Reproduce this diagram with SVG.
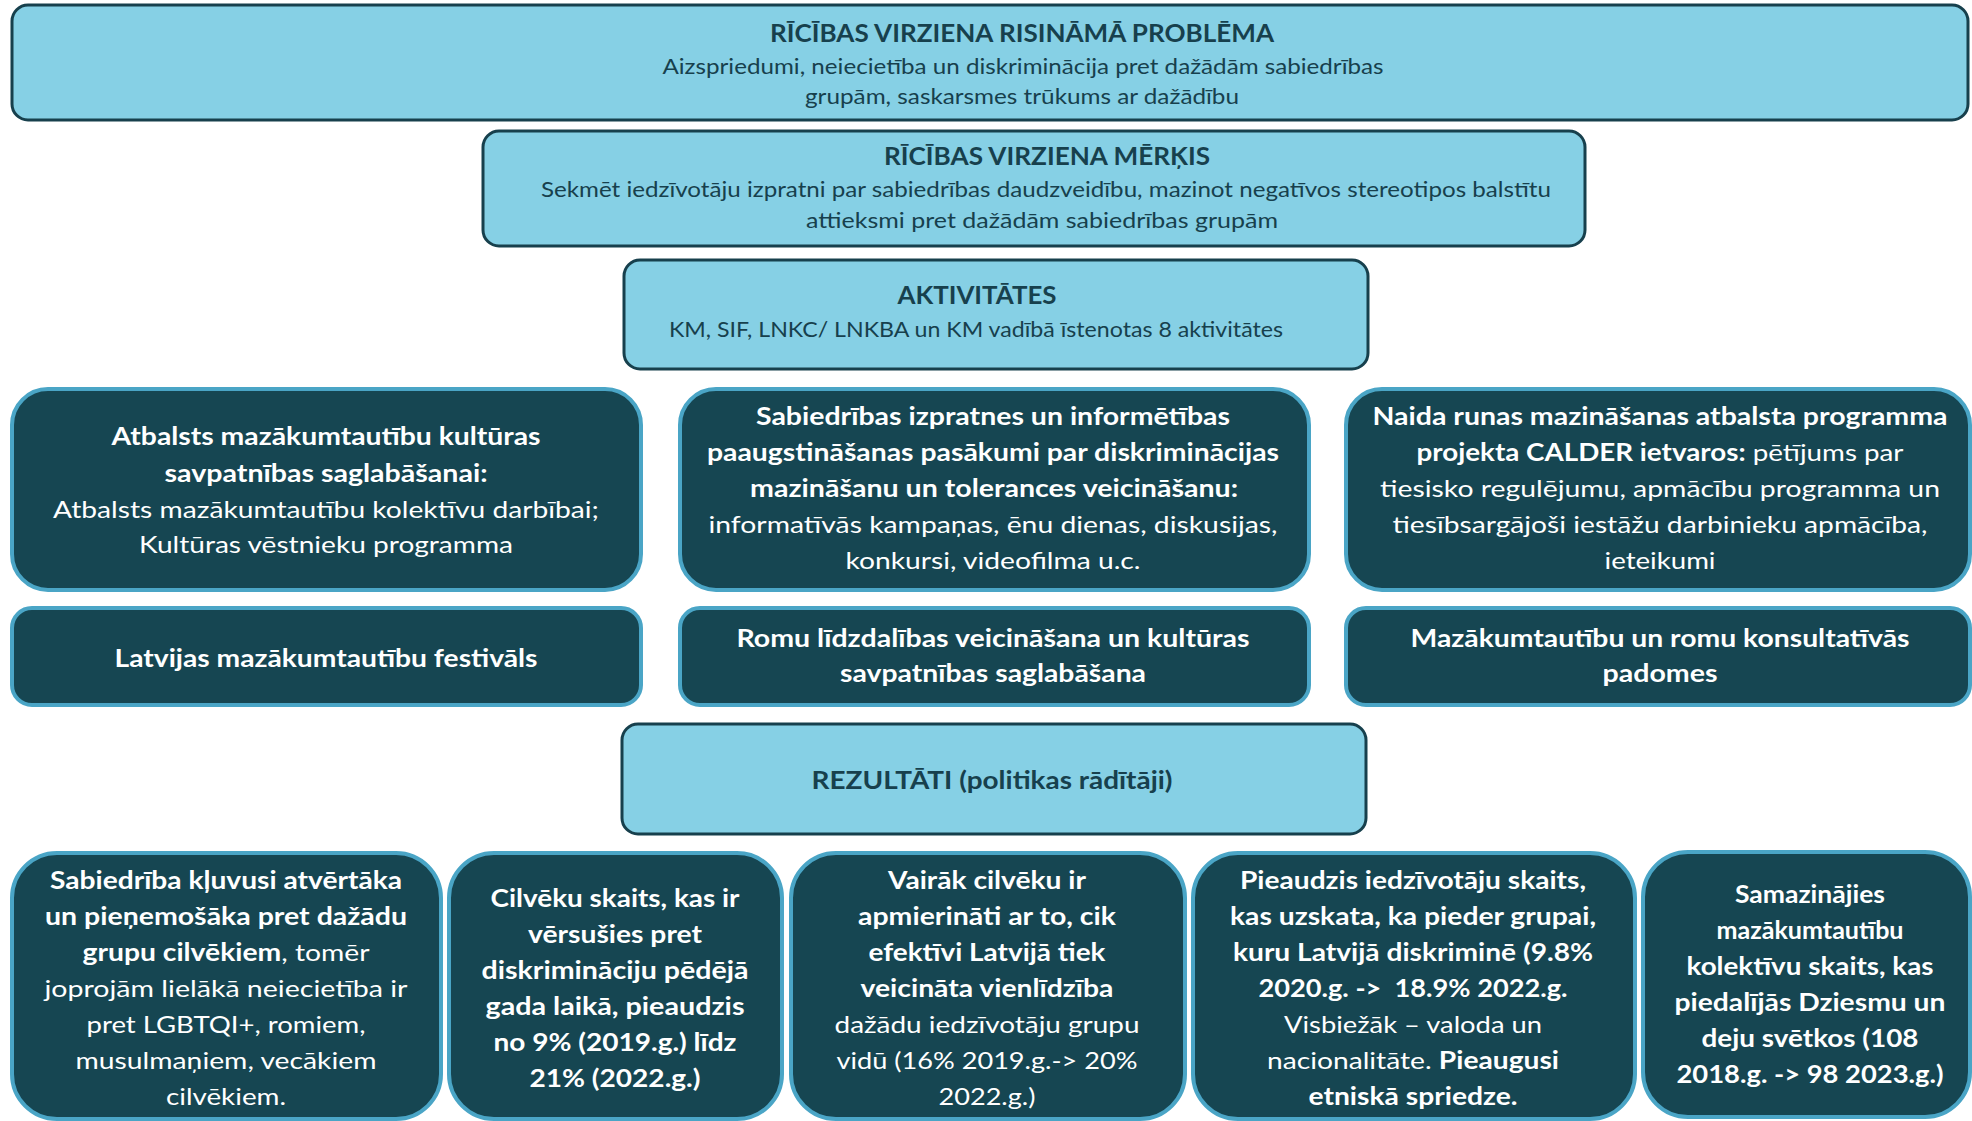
<svg xmlns="http://www.w3.org/2000/svg" width="1972" height="1121" viewBox="0 0 1972 1121">
<style>
.light{fill:#86D0E5;stroke:#17404D;stroke-width:3}
.dark{fill:#164652;stroke:#4AA5C6;stroke-width:4}
text{font-family:Lato,"Open Sans","Liberation Sans",sans-serif;text-anchor:middle}
.lt{fill:#17404D;font-size:22px}
.lh{fill:#17404D;font-size:24px;font-weight:700}
.dt{fill:#FFFFFF;font-size:24px}
.b{font-weight:700}
</style>
<rect width="1972" height="1121" fill="#FFFFFF"/>
<g id="connectors"/>
<g id="problema">
<rect class="light" x="12" y="5" width="1956" height="115" rx="16"/>
<text class="lh" x="1022" y="42" textLength="504" lengthAdjust="spacingAndGlyphs">RĪCĪBAS VIRZIENA RISINĀMĀ PROBLĒMA</text>
<text class="lt" x="1023" y="74" textLength="721" lengthAdjust="spacingAndGlyphs">Aizspriedumi, neiecietība un diskriminācija pret dažādām sabiedrības</text>
<text class="lt" x="1022" y="104" textLength="434" lengthAdjust="spacingAndGlyphs">grupām, saskarsmes trūkums ar dažādību</text>
</g>
<g id="merkis">
<rect class="light" x="483" y="131" width="1102" height="115" rx="16"/>
<text class="lh" x="1047" y="165" textLength="326" lengthAdjust="spacingAndGlyphs">RĪCĪBAS VIRZIENA MĒRĶIS</text>
<text class="lt" x="1046" y="197" textLength="1010" lengthAdjust="spacingAndGlyphs">Sekmēt iedzīvotāju izpratni par sabiedrības daudzveidību, mazinot negatīvos stereotipos balstītu</text>
<text class="lt" x="1042" y="228" textLength="472" lengthAdjust="spacingAndGlyphs">attieksmi pret dažādām sabiedrības grupām</text>
</g>
<g id="aktivitates">
<rect class="light" x="624" y="260" width="744" height="109" rx="16"/>
<text class="lh" x="977" y="304" textLength="159" lengthAdjust="spacingAndGlyphs">AKTIVITĀTES</text>
<text class="lt" x="976" y="337" textLength="614" lengthAdjust="spacingAndGlyphs">KM, SIF, LNKC/ LNKBA un KM vadībā īstenotas 8 aktivitātes</text>
</g>
<g id="akt1">
<rect class="dark" x="12" y="389" width="629" height="201" rx="36"/>
<text class="dt b" x="326" y="445" textLength="429" lengthAdjust="spacingAndGlyphs">Atbalsts mazākumtautību kultūras</text>
<text class="dt b" x="326" y="482" textLength="323" lengthAdjust="spacingAndGlyphs">savpatnības saglabāšanai:</text>
<text class="dt" x="326" y="518" textLength="546" lengthAdjust="spacingAndGlyphs">Atbalsts mazākumtautību kolektīvu darbībai;</text>
<text class="dt" x="326" y="553" textLength="374" lengthAdjust="spacingAndGlyphs">Kultūras vēstnieku programma</text>
</g>
<g id="akt2">
<rect class="dark" x="680" y="389" width="629" height="201" rx="36"/>
<text class="dt b" x="993" y="425" textLength="474" lengthAdjust="spacingAndGlyphs">Sabiedrības izpratnes un informētības</text>
<text class="dt b" x="993" y="461" textLength="572" lengthAdjust="spacingAndGlyphs">paaugstināšanas pasākumi par diskriminācijas</text>
<text class="dt b" x="994" y="497" textLength="488" lengthAdjust="spacingAndGlyphs">mazināšanu un tolerances veicināšanu:</text>
<text class="dt" x="993" y="533" textLength="569" lengthAdjust="spacingAndGlyphs">informatīvās kampaņas, ēnu dienas, diskusijas,</text>
<text class="dt" x="993" y="569" textLength="295" lengthAdjust="spacingAndGlyphs">konkursi, videofilma u.c.</text>
</g>
<g id="akt3">
<rect class="dark" x="1346" y="389" width="624" height="201" rx="36"/>
<text class="dt b" x="1660" y="425" textLength="575" lengthAdjust="spacingAndGlyphs">Naida runas mazināšanas atbalsta programma</text>
<text class="dt" x="1660" y="461" textLength="487" lengthAdjust="spacingAndGlyphs"><tspan class="b">projekta CALDER ietvaros:</tspan> pētījums par</text>
<text class="dt" x="1660" y="497" textLength="560" lengthAdjust="spacingAndGlyphs">tiesisko regulējumu, apmācību programma un</text>
<text class="dt" x="1660" y="533" textLength="535" lengthAdjust="spacingAndGlyphs">tiesībsargājoši iestāžu darbinieku apmācība,</text>
<text class="dt" x="1660" y="569" textLength="111" lengthAdjust="spacingAndGlyphs">ieteikumi</text>
</g>
<g id="akt4">
<rect class="dark" x="12" y="608" width="629" height="97" rx="20"/>
<text class="dt b" x="326" y="667" textLength="423" lengthAdjust="spacingAndGlyphs">Latvijas mazākumtautību festivāls</text>
</g>
<g id="akt5">
<rect class="dark" x="680" y="608" width="629" height="97" rx="20"/>
<text class="dt b" x="993" y="647" textLength="513" lengthAdjust="spacingAndGlyphs">Romu līdzdalības veicināšana un kultūras</text>
<text class="dt b" x="993" y="682" textLength="306" lengthAdjust="spacingAndGlyphs">savpatnības saglabāšana</text>
</g>
<g id="akt6">
<rect class="dark" x="1346" y="608" width="624" height="97" rx="20"/>
<text class="dt b" x="1660" y="647" textLength="499" lengthAdjust="spacingAndGlyphs">Mazākumtautību un romu konsultatīvās</text>
<text class="dt b" x="1660" y="682" textLength="115" lengthAdjust="spacingAndGlyphs">padomes</text>
</g>
<g id="rezultati">
<rect class="light" x="622" y="724" width="744" height="110" rx="16"/>
<text class="lh" x="992" y="789" textLength="361" lengthAdjust="spacingAndGlyphs">REZULTĀTI (politikas rādītāji)</text>
</g>
<g id="rez1">
<rect class="dark" x="12" y="853" width="429" height="266" rx="45"/>
<text class="dt b" x="226" y="889" textLength="352" lengthAdjust="spacingAndGlyphs">Sabiedrība kļuvusi atvērtāka</text>
<text class="dt b" x="226" y="925" textLength="362" lengthAdjust="spacingAndGlyphs">un pieņemošāka pret dažādu</text>
<text class="dt" x="226" y="961" textLength="287" lengthAdjust="spacingAndGlyphs"><tspan class="b">grupu cilvēkiem</tspan>, tomēr</text>
<text class="dt" x="226" y="997" textLength="363" lengthAdjust="spacingAndGlyphs">joprojām lielākā neiecietība ir</text>
<text class="dt" x="226" y="1033" textLength="279" lengthAdjust="spacingAndGlyphs">pret LGBTQI+, romiem,</text>
<text class="dt" x="226" y="1069" textLength="301" lengthAdjust="spacingAndGlyphs">musulmaņiem, vecākiem</text>
<text class="dt" x="226" y="1105" textLength="120" lengthAdjust="spacingAndGlyphs">cilvēkiem.</text>
</g>
<g id="rez2">
<rect class="dark" x="449" y="853" width="333" height="266" rx="45"/>
<text class="dt b" x="615" y="907" textLength="249" lengthAdjust="spacingAndGlyphs">Cilvēku skaits, kas ir</text>
<text class="dt b" x="615" y="943" textLength="174" lengthAdjust="spacingAndGlyphs">vērsušies pret</text>
<text class="dt b" x="615" y="979" textLength="267" lengthAdjust="spacingAndGlyphs">diskrimināciju pēdējā</text>
<text class="dt b" x="615" y="1015" textLength="259" lengthAdjust="spacingAndGlyphs">gada laikā, pieaudzis</text>
<text class="dt b" x="615" y="1051" textLength="243" lengthAdjust="spacingAndGlyphs">no 9% (2019.g.) līdz</text>
<text class="dt b" x="615" y="1087" textLength="171" lengthAdjust="spacingAndGlyphs">21% (2022.g.)</text>
</g>
<g id="rez3">
<rect class="dark" x="791" y="853" width="394" height="266" rx="45"/>
<text class="dt b" x="987" y="889" textLength="198" lengthAdjust="spacingAndGlyphs">Vairāk cilvēku ir</text>
<text class="dt b" x="987" y="925" textLength="258" lengthAdjust="spacingAndGlyphs">apmierināti ar to, cik</text>
<text class="dt b" x="987" y="961" textLength="237" lengthAdjust="spacingAndGlyphs">efektīvi Latvijā tiek</text>
<text class="dt b" x="987" y="997" textLength="253" lengthAdjust="spacingAndGlyphs">veicināta vienlīdzība</text>
<text class="dt" x="987" y="1033" textLength="305" lengthAdjust="spacingAndGlyphs">dažādu iedzīvotāju grupu</text>
<text class="dt" x="987" y="1069" textLength="301" lengthAdjust="spacingAndGlyphs">vidū (16% 2019.g.-&gt; 20%</text>
<text class="dt" x="987" y="1105" textLength="97" lengthAdjust="spacingAndGlyphs">2022.g.)</text>
</g>
<g id="rez4">
<rect class="dark" x="1193" y="853" width="442" height="266" rx="45"/>
<text class="dt b" x="1413" y="889" textLength="346" lengthAdjust="spacingAndGlyphs">Pieaudzis iedzīvotāju skaits,</text>
<text class="dt b" x="1413" y="925" textLength="366" lengthAdjust="spacingAndGlyphs">kas uzskata, ka pieder grupai,</text>
<text class="dt b" x="1413" y="961" textLength="360" lengthAdjust="spacingAndGlyphs">kuru Latvijā diskriminē (9.8%</text>
<text class="dt b" x="1413" y="997" textLength="309" lengthAdjust="spacingAndGlyphs" xml:space="preserve">2020.g. -&gt;  18.9% 2022.g.</text>
<text class="dt" x="1413" y="1033" textLength="258" lengthAdjust="spacingAndGlyphs">Visbiežāk – valoda un</text>
<text class="dt" x="1413" y="1069" textLength="292" lengthAdjust="spacingAndGlyphs">nacionalitāte. <tspan class="b">Pieaugusi</tspan></text>
<text class="dt b" x="1413" y="1105" textLength="209" lengthAdjust="spacingAndGlyphs">etniskā spriedze.</text>
</g>
<g id="rez5">
<rect class="dark" x="1643" y="852" width="327" height="265" rx="45"/>
<text class="dt b" x="1810" y="903" textLength="150" lengthAdjust="spacingAndGlyphs">Samazinājies</text>
<text class="dt b" x="1810" y="939" textLength="187" lengthAdjust="spacingAndGlyphs">mazākumtautību</text>
<text class="dt b" x="1810" y="975" textLength="247" lengthAdjust="spacingAndGlyphs">kolektīvu skaits, kas</text>
<text class="dt b" x="1810" y="1011" textLength="271" lengthAdjust="spacingAndGlyphs">piedalījās Dziesmu un</text>
<text class="dt b" x="1810" y="1047" textLength="217" lengthAdjust="spacingAndGlyphs">deju svētkos (108</text>
<text class="dt b" x="1810" y="1083" textLength="267" lengthAdjust="spacingAndGlyphs">2018.g. -&gt; 98 2023.g.)</text>
</g>
</svg>
